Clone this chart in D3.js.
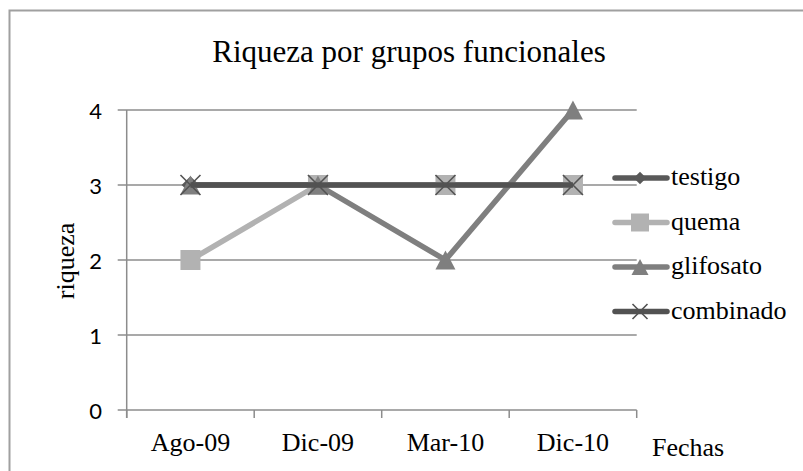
<!DOCTYPE html>
<html>
<head>
<meta charset="utf-8">
<script src="https://cdn.jsdelivr.net/npm/d3@7"></script>
<style>
  body { margin: 0; background: #fff; }
  svg { display: block; }
</style>
</head>
<body>
<svg id="chart" width="803" height="471"></svg>
<script>
// ---------------- data ----------------
var fechas = ["Ago-09", "Dic-09", "Mar-10", "Dic-10"]
var yTicks = [0, 1, 2, 3, 4]
var testigo = [3, 3, 3, 3]
var quema = [2, 3, 3, 3]
var glifosato = [3, 3, 2, 4]
var combinado = [3, 3, 3, 3]
var seriesNames = ["testigo", "quema", "glifosato", "combinado"]

var series = [
  { name: "testigo", values: testigo, color: "#595959", marker: "diamond" },
  { name: "quema", values: quema, color: "#b2b2b2", marker: "square" },
  { name: "glifosato", values: glifosato, color: "#7f7f7f", marker: "triangle" },
  { name: "combinado", values: combinado, color: "#525252", marker: "x" }
]

// ---------------- layout ----------------
var svg = d3.select("#chart")
var serif = "'Liberation Serif', 'Times New Roman', serif"
var plot = { left: 126.7, right: 636.7, top: 110, bottom: 410 }

var x = d3.scaleBand().domain(fechas).range([plot.left, plot.right]).padding(0)
var y = d3.scaleLinear().domain([0, 4]).range([plot.bottom, plot.top])
var cx = function (d) { return x(d) + x.bandwidth() / 2 }

// outer frame (runs off the picture on the right and bottom)
svg.append("rect")
  .attr("x", 9.5).attr("y", 10.5)
  .attr("width", 830).attr("height", 520)
  .attr("fill", "none")
  .attr("stroke", "#a0a0a0")
  .attr("stroke-width", 2)

// title
svg.append("text")
  .attr("x", 409).attr("y", 62)
  .attr("text-anchor", "middle")
  .style("font-family", serif)
  .style("font-size", "31px")
  .text("Riqueza por grupos funcionales")

// gridlines + y labels
var grid = svg.append("g")
grid.selectAll("line").data(yTicks).enter().append("line")
  .attr("x1", plot.left - 9).attr("x2", plot.right)
  .attr("y1", d => y(d)).attr("y2", d => y(d))
  .attr("stroke", "#8c8c8c").attr("stroke-width", 1.5)

grid.selectAll("text").data(yTicks).enter().append("text")
  .attr("x", 102).attr("y", d => y(d))
  .attr("text-anchor", "end")
  .attr("dominant-baseline", "central")
  .style("font-family", "Lato, 'Open Sans', sans-serif")
  .style("font-size", "22px")
  .text(d => d)

// y axis line
svg.append("line")
  .attr("x1", plot.left).attr("x2", plot.left)
  .attr("y1", plot.top).attr("y2", plot.bottom + 8)
  .attr("stroke", "#8c8c8c").attr("stroke-width", 1.5)

// x tick marks at band edges
var edges = fechas.map(d => x(d)).concat([plot.right])
svg.append("g").selectAll("line").data(edges).enter().append("line")
  .attr("x1", d => d).attr("x2", d => d)
  .attr("y1", plot.bottom).attr("y2", plot.bottom + 8)
  .attr("stroke", "#8c8c8c").attr("stroke-width", 1.5)

// x labels
svg.append("g").selectAll("text").data(fechas).enter().append("text")
  .attr("x", d => cx(d)).attr("y", 451)
  .attr("text-anchor", "middle")
  .style("font-family", serif)
  .style("font-size", "26px")
  .text(d => d)

svg.append("text")
  .attr("x", 652).attr("y", 456)
  .style("font-family", serif)
  .style("font-size", "26px")
  .text("Fechas")

// y title
svg.append("text")
  .attr("transform", "translate(74,261) rotate(-90)")
  .attr("text-anchor", "middle")
  .style("font-family", serif)
  .style("font-size", "26px")
  .text("riqueza")

// ---------------- markers ----------------
function drawMarker(g, type, color, s) {
  if (type == "diamond") {
    g.append("path").attr("d", d3.symbol(d3.symbolDiamond2, s * s / 2)())
      .attr("fill", color)
  } else if (type == "square") {
    g.append("path").attr("d", d3.symbol(d3.symbolSquare, s * s)())
      .attr("fill", color)
  } else if (type == "triangle") {
    var h = s * 0.95
    g.append("path")
      .attr("d", "M0," + (-h / 2) + "L" + (s / 2) + "," + (h / 2) + "L" + (-s / 2) + "," + (h / 2) + "Z")
      .attr("fill", color)
  } else {
    var r = s / 2
    g.append("path")
      .attr("d", "M" + (-r) + "," + (-r) + "L" + r + "," + r + "M" + (-r) + "," + r + "L" + r + "," + (-r))
      .attr("fill", "none").attr("stroke", color).attr("stroke-width", 1.6)
  }
}

var line = d3.line().x(d => cx(d.f)).y(d => y(d.v))

series.forEach(function (s) {
  var pts = s.values.map((v, i) => ({ f: fechas[i], v: v }))
  var g = svg.append("g")
  g.append("path").datum(pts)
    .attr("d", line)
    .attr("fill", "none")
    .attr("stroke", s.color)
    .attr("stroke-width", 5.5)
    .attr("stroke-linejoin", "round")
  pts.forEach(function (p) {
    var m = g.append("g").attr("transform", "translate(" + cx(p.f) + "," + y(p.v) + ")")
    drawMarker(m, s.marker, s.color, 20)
  })
})

// ---------------- legend ----------------
var legendY = [178, 222.5, 267, 311.5]
var leg = svg.append("g")
series.forEach(function (s, i) {
  var ly = legendY[i]
  leg.append("line")
    .attr("x1", 615).attr("x2", 667)
    .attr("y1", ly).attr("y2", ly)
    .attr("stroke", s.color).attr("stroke-width", 5.5)
    .attr("stroke-linecap", "round")
  var m = leg.append("g").attr("transform", "translate(640," + ly + ")")
  var size = { diamond: 14, square: 18, triangle: 17, x: 15 }[s.marker]
  drawMarker(m, s.marker, s.color, size)
  leg.append("text")
    .attr("x", 671).attr("y", ly + 7)
    .style("font-family", serif)
    .style("font-size", "26px")
    .text(seriesNames[i])
})
</script>
</body>
</html>
